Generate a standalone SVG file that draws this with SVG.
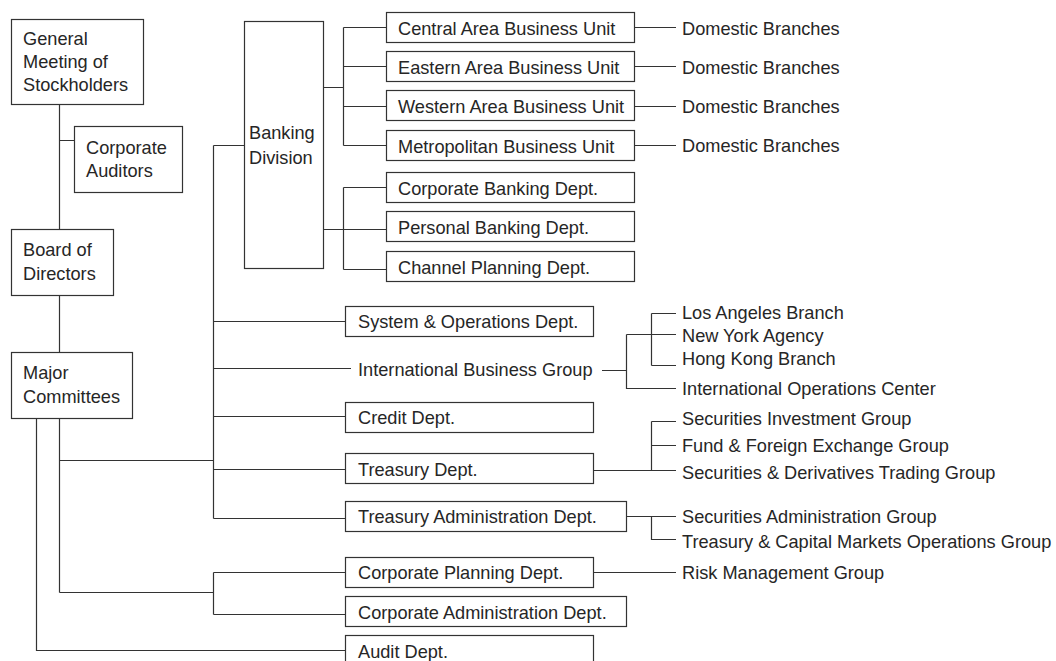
<svg xmlns="http://www.w3.org/2000/svg" width="1056" height="661" viewBox="0 0 1056 661">
<style>
.box{fill:#fff;stroke:#333;stroke-width:1.2}
.ln{fill:none;stroke:#333;stroke-width:1.2}
text{font-family:"Liberation Sans",Arial,sans-serif;font-size:18.2px;fill:#262626}
</style>
<rect width="1056" height="661" fill="#fff"/>
<g id="connectors" class="ln">
<path d="M59.5 104.5V229.5M59.5 140.5H74.5M59.5 295.5V352.5"/>
<path d="M59.5 418.5V592.5M59.5 460.5H213.5M59.5 592.5H213.5"/>
<path d="M36.5 418.5V650.5H345.5"/>
<path d="M213.5 145.5V518.5M213.5 145.5H244.5M213.5 321.5H345.5M213.5 368.5H351M213.5 416.5H345.5M213.5 469.5H345.5M213.5 518.5H345.5"/>
<path d="M213.5 572.5V614.5M213.5 572.5H345.5M213.5 614.5H345.5"/>
<path d="M323.5 87.5H343.5M343.5 27.5V145.5M343.5 27.5H386.5M343.5 66.5H386.5M343.5 106.5H386.5M343.5 145.5H386.5"/>
<path d="M323.5 229.5H386.5M343.5 187.5V269.5M343.5 187.5H386.5M343.5 269.5H386.5"/>
<path d="M634.5 27.5H676M634.5 66.5H676M634.5 106.5H676M634.5 145.5H676"/>
<path d="M602 370.5H626.5M626.5 334.5V388.5H676M626.5 334.5H676M651.5 313.5V365.5M651.5 313.5H676M651.5 365.5H676"/>
<path d="M593.5 470.5H676M651.5 421.5V470.5M651.5 421.5H676M651.5 445.5H676"/>
<path d="M626.5 516.5H676M651.5 516.5V539.5H676"/>
<path d="M593.5 572.5H676"/>
</g>
<g id="general-meeting"><rect class="box" x="11.5" y="19.5" width="132" height="85"/><text x="23" y="45">General</text><text x="23" y="68">Meeting of</text><text x="23" y="91">Stockholders</text></g>
<g id="corporate-auditors"><rect class="box" x="74.5" y="126.5" width="108" height="66"/><text x="86" y="154">Corporate</text><text x="86" y="177">Auditors</text></g>
<g id="board"><rect class="box" x="11.5" y="229.5" width="102" height="66"/><text x="23" y="256">Board of</text><text x="23" y="280">Directors</text></g>
<g id="major-committees"><rect class="box" x="11.5" y="352.5" width="121" height="66"/><text x="23" y="379">Major</text><text x="23" y="403">Committees</text></g>
<g id="banking-division"><rect class="box" x="244.5" y="21.5" width="79" height="247"/><text x="249" y="139">Banking</text><text x="249" y="164">Division</text></g>
<g id="central"><rect class="box" x="386.5" y="12.5" width="248" height="30"/><text x="398" y="34.5">Central Area Business Unit</text></g>
<g id="eastern"><rect class="box" x="386.5" y="51.5" width="248" height="30"/><text x="398" y="73.5">Eastern Area Business Unit</text></g>
<g id="western"><rect class="box" x="386.5" y="90.5" width="248" height="30"/><text x="398" y="112.5">Western Area Business Unit</text></g>
<g id="metropolitan"><rect class="box" x="386.5" y="130.5" width="248" height="30"/><text x="398" y="152.5">Metropolitan Business Unit</text></g>
<g id="corporate-banking"><rect class="box" x="386.5" y="172.5" width="248" height="30"/><text x="398" y="194.5">Corporate Banking Dept.</text></g>
<g id="personal-banking"><rect class="box" x="386.5" y="211.5" width="248" height="30"/><text x="398" y="233.5">Personal Banking Dept.</text></g>
<g id="channel-planning"><rect class="box" x="386.5" y="251.5" width="248" height="30"/><text x="398" y="273.5">Channel Planning Dept.</text></g>
<g id="domestic-1"><text x="682" y="34.5">Domestic Branches</text></g>
<g id="domestic-2"><text x="682" y="73.5">Domestic Branches</text></g>
<g id="domestic-3"><text x="682" y="112.5">Domestic Branches</text></g>
<g id="domestic-4"><text x="682" y="152">Domestic Branches</text></g>
<g id="system-ops"><rect class="box" x="345.5" y="306.5" width="248" height="30"/><text x="358" y="328">System &amp; Operations Dept.</text></g>
<g id="intl-business"><text x="358" y="376">International Business Group</text></g>
<g id="la"><text x="682" y="318.5">Los Angeles Branch</text></g>
<g id="ny"><text x="682" y="341.5">New York Agency</text></g>
<g id="hk"><text x="682" y="365">Hong Kong Branch</text></g>
<g id="ioc"><text x="682" y="394.5">International Operations Center</text></g>
<g id="credit"><rect class="box" x="345.5" y="402.5" width="248" height="30"/><text x="358" y="424">Credit Dept.</text></g>
<g id="treasury"><rect class="box" x="345.5" y="453.5" width="248" height="30"/><text x="358" y="475.5">Treasury Dept.</text></g>
<g id="sig"><text x="682" y="424.5">Securities Investment Group</text></g>
<g id="ffeg"><text x="682" y="452">Fund &amp; Foreign Exchange Group</text></g>
<g id="sdtg"><text x="682" y="479">Securities &amp; Derivatives Trading Group</text></g>
<g id="treasury-admin"><rect class="box" x="345.5" y="501.5" width="281" height="30"/><text x="358" y="523">Treasury Administration Dept.</text></g>
<g id="sag"><text x="682" y="522.5">Securities Administration Group</text></g>
<g id="tcmog"><text x="682" y="548">Treasury &amp; Capital Markets Operations Group</text></g>
<g id="corp-planning"><rect class="box" x="345.5" y="557.5" width="248" height="30"/><text x="358" y="579">Corporate Planning Dept.</text></g>
<g id="rmg"><text x="682" y="579">Risk Management Group</text></g>
<g id="corp-admin"><rect class="box" x="345.5" y="596.5" width="281" height="30"/><text x="358" y="618.5">Corporate Administration Dept.</text></g>
<g id="audit"><rect class="box" x="345.5" y="635.5" width="248" height="40"/><text x="358" y="657.5">Audit Dept.</text></g>
</svg>
